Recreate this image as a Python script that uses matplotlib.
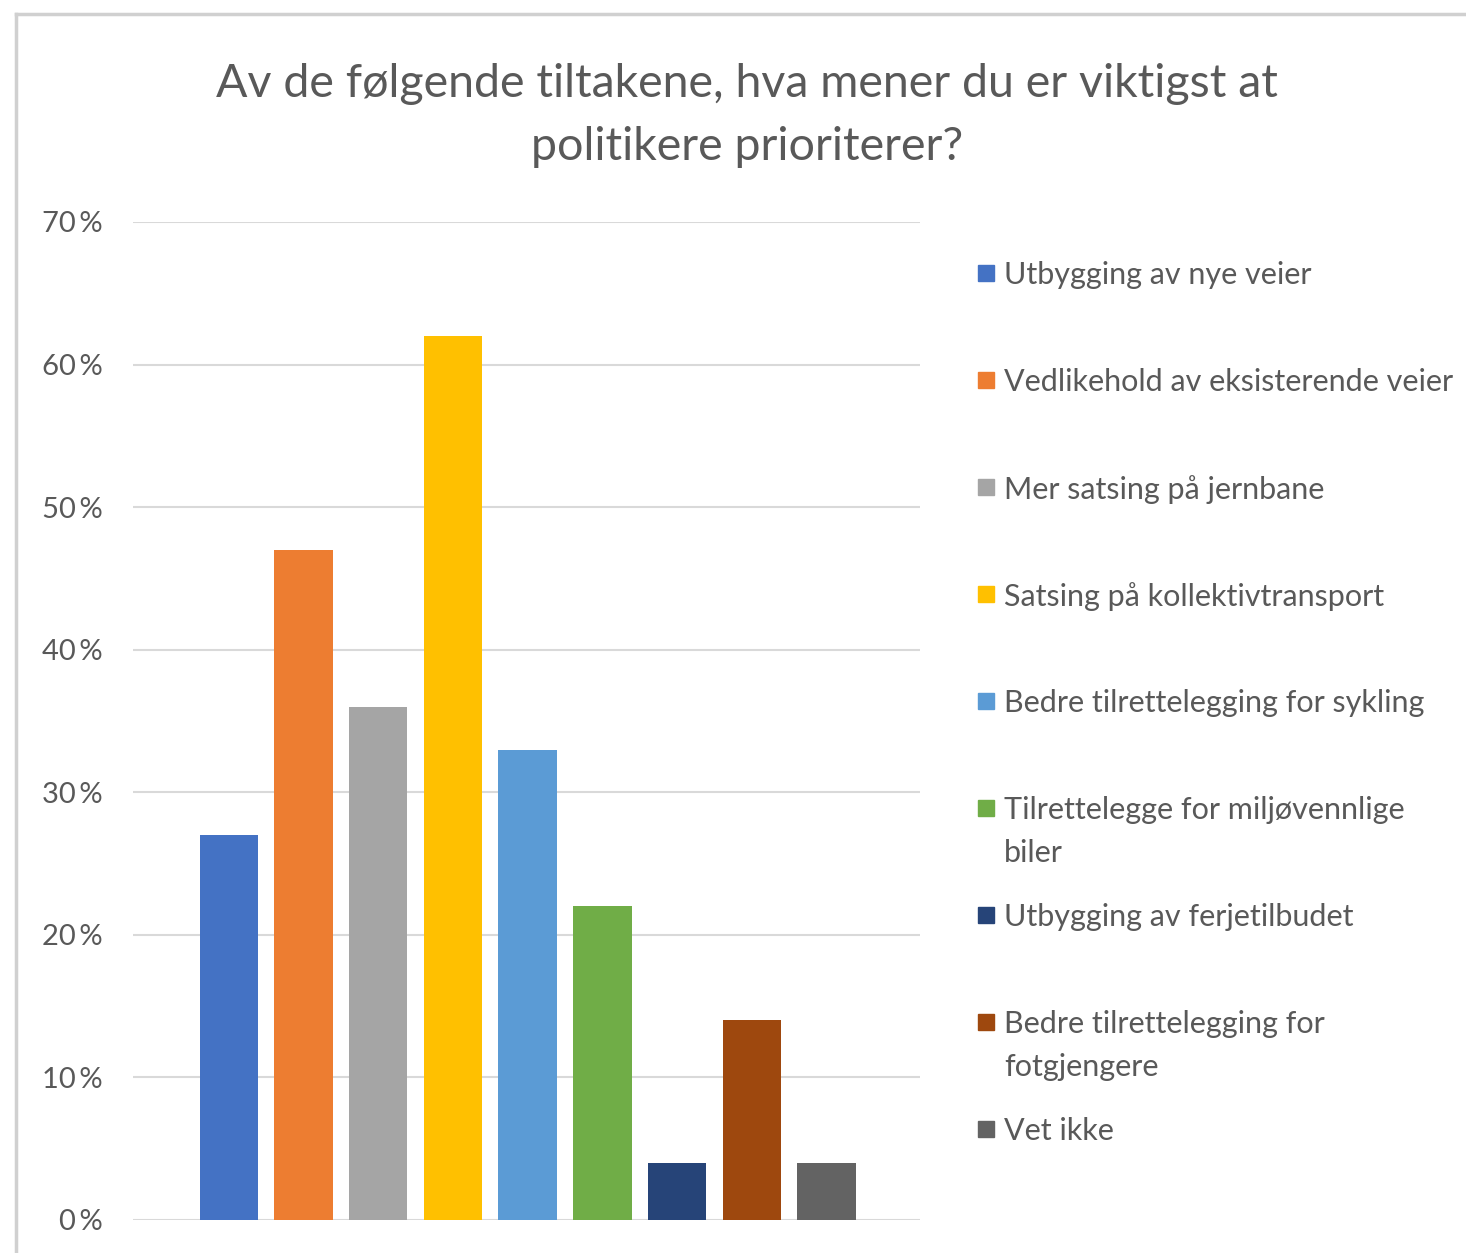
import matplotlib.pyplot as plt
import numpy as np
from matplotlib.lines import Line2D
from matplotlib.patches import Rectangle

# values (percent)
labels = ['Utbygging av nye veier',
          'Vedlikehold av eksisterende veier',
          'Mer satsing på jernbane',
          'Satsing på kollektivtransport',
          'Bedre tilrettelegging for sykling',
          'Tilrettelegge for miljøvennlige\nbiler',
          'Utbygging av ferjetilbudet',
          'Bedre tilrettelegging for\nfotgjengere',
          'Vet ikke']
values = [27, 47, 36, 62, 33, 22, 4, 14, 4]
colors = ['#4472C4', '#ED7D31', '#A5A5A5', '#FFC000', '#5B9BD5',
          '#70AD47', '#264478', '#9E480E', '#636363']
yticks = [0, 10, 20, 30, 40, 50, 60, 70]

txt = '#595959'
plt.rcParams['font.family'] = ['Lato', 'DejaVu Sans']

W, H = 1466, 1253
fig = plt.figure(figsize=(W / 100, H / 100), dpi=100)
ax = fig.add_axes([133 / W, 1 - 1220 / H, 787 / W, 998 / H])

x = np.arange(len(values))
ax.bar(x, values, width=0.78, color=colors, zorder=3)
ax.set_xlim(-1.28, 9.25)
ax.set_ylim(0, 70)
ax.set_yticks(yticks)
ax.set_yticklabels([f'{v}\u2009%' for v in yticks], color=txt, fontsize=21)
ax.tick_params(axis='y', length=0, pad=22)
ax.set_xticks([])
ax.grid(axis='y', color='#D9D9D9', linewidth=1.5, zorder=0)
for s in ax.spines.values():
    s.set_visible(False)

# title
fig.text(747 / W, 1 - 97 / H, 'Av de følgende tiltakene, hva mener du er viktigst at',
         ha='center', va='baseline', fontsize=33.5, color=txt)
fig.text(747 / W, 1 - 160 / H, 'politikere prioriterer?',
         ha='center', va='baseline', fontsize=33.5, color=txt)

# legend, evenly spaced slots like Excel
for i, (lab, c) in enumerate(zip(labels, colors)):
    yc = 273 + 107 * i
    fig.patches.append(Rectangle((978 / W, 1 - (yc + 8) / H), 16 / W, 16 / H,
                                 transform=fig.transFigure, color=c, figure=fig))
    fig.text(1004 / W, 1 - (yc - 12) / H, lab, ha='left', va='top',
             fontsize=22, color=txt, linespacing=1.65)

# chart frame
fig.add_artist(Line2D([16 / W, 16 / W], [0, 1 - 14 / H], color='#D0D0D0',
                      linewidth=2.5, transform=fig.transFigure))
fig.add_artist(Line2D([16 / W, 1], [1 - 14 / H, 1 - 14 / H], color='#D0D0D0',
                      linewidth=2.5, transform=fig.transFigure))

plt.savefig('out.png')
